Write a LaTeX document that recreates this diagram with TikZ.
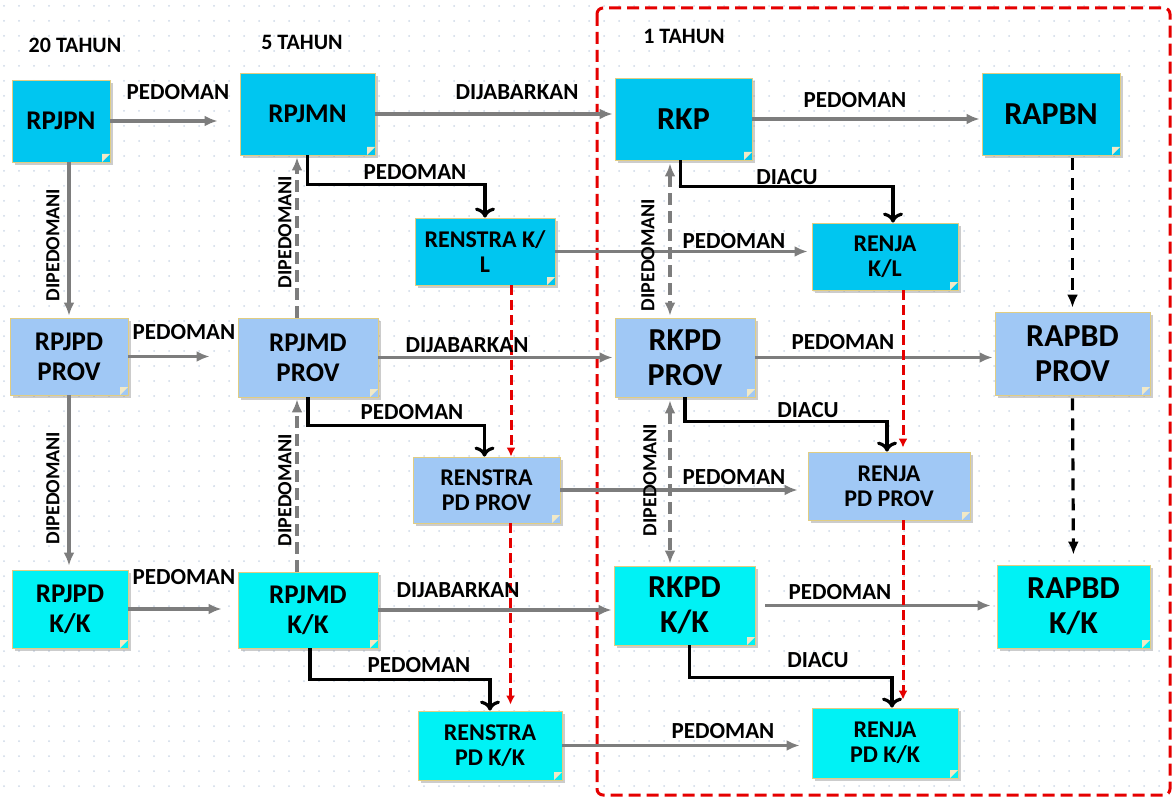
\documentclass[tikz,border=0pt]{standalone}
\usepackage{fontspec}
\setmainfont{Carlito}
\usetikzlibrary{arrows,arrows.meta,shapes,positioning,shadows,calc}

\definecolor{cpusat}{RGB}{0,198,240}
\definecolor{cprov}{RGB}{160,200,245}
\definecolor{ckab}{RGB}{0,242,245}
\definecolor{cborder}{RGB}{225,205,130}
\definecolor{cgaris}{RGB}{125,125,125}
\definecolor{ctitik}{RGB}{205,216,230}

\newcommand{\boxfont}{\fontsize{13.5}{15}\selectfont\bfseries}
\newcommand{\bigboxfont}{\fontsize{16}{17.5}\selectfont\bfseries}
\newcommand{\docfont}{\fontsize{12}{12.5}\selectfont\bfseries}
\newcommand{\lblfont}{\fontsize{11.5}{13}\selectfont\bfseries}
\newcommand{\dipfont}{\fontsize{10}{12}\selectfont\bfseries}

\begin{document}
\begin{tikzpicture}[x=0.5pt, y=-0.5pt,
	basic/.style  = {draw=cborder, thin, rectangle, align=center, inner sep=1pt,
		drop shadow={opacity=0.4, shadow xshift=1.5pt, shadow yshift=-1.5pt},
		path picture={\fill[cborder!45!white] ([xshift=-4pt]path picture bounding box.south east)
			-- ([yshift=4pt]path picture bounding box.south east)
			-- ([xshift=-4pt,yshift=4pt]path picture bounding box.south east) -- cycle;}},
	pusat/.style  = {basic, fill=cpusat},
	prov/.style   = {basic, fill=cprov},
	kab/.style    = {basic, fill=ckab},
	lbl/.style    = {font=\lblfont, inner sep=0pt},
	dip/.style    = {font=\dipfont, inner sep=0pt, rotate=90},
	gline/.style  = {->, draw=cgaris, line width=1.6pt},
	gdash/.style  = {gline, dash pattern=on 6pt off 3pt},
	bline/.style  = {-{To[length=5pt,width=10pt,line width=1.6pt]}, draw=black, line width=1.7pt},
	kdash/.style  = {->, draw=black, line width=1.6pt, dash pattern=on 6pt off 4pt},
	rdash/.style  = {-{Latex[length=4.5pt,width=4.5pt]}, draw=red!90!black, line width=1.5pt, dash pattern=on 5pt off 2.5pt},
	frame/.style  = {draw=red!90!black, line width=1.5pt, dash pattern=on 6pt off 3pt, rounded corners=3pt},
	dotgrid/.style = {draw=ctitik, line width=1pt, line cap=round, dash pattern=on 0pt off 7.5pt},
	>={Latex[length=6.5pt,width=5.5pt]}]

	\useasboundingbox (0,0) rectangle (1174,797);

	% dotted background
	\foreach \y in {6,21,...,796}
	\draw[dotgrid] (4,\y) -- (1174,\y);

	% the one-year frame
	\draw[frame] (597,8) rectangle (1170,795);

	% headings
	\node[font=\fontsize{11}{13}\selectfont\bfseries] (h20) at (75,45) {20 TAHUN};
	\node[font=\fontsize{11}{13}\selectfont\bfseries] (h5) at (302,42) {5 TAHUN};
	\node[font=\fontsize{11}{13}\selectfont\bfseries] (h1) at (684,36) {1 TAHUN};

	% national level
	\node[pusat, minimum width=49pt, minimum height=41pt, font=\boxfont] (rpjpn) at (61,121) {RPJPN};
	\node[pusat, minimum width=67.5pt, minimum height=41pt, font=\boxfont] (rpjmn) at (307.5,114) {RPJMN};
	\node[pusat, minimum width=70pt, minimum height=33.5pt, font=\docfont] (renstrakl) at (485,251.5) {RENSTRA K/\\L};
	\node[pusat, minimum width=68.5pt, minimum height=41pt, font=\bigboxfont] (rkp) at (683.5,119) {RKP};
	\node[pusat, minimum width=73pt, minimum height=33.5pt, font=\docfont] (renjakl) at (885,256.5) {RENJA\\K/L};
	\node[pusat, minimum width=69pt, minimum height=41pt, font=\bigboxfont] (rapbn) at (1051,114) {RAPBN};

	% province level
	\node[prov, minimum width=59pt, minimum height=38.5pt, font=\boxfont] (rpjpdprov) at (69,356.5) {RPJPD\\PROV};
	\node[prov, minimum width=70pt, minimum height=39.5pt, font=\boxfont] (rpjmdprov) at (308,357.5) {RPJMD\\PROV};
	\node[prov, minimum width=73.5pt, minimum height=33pt, font=\docfont] (renstraprov) at (486.5,490) {RENSTRA\\PD PROV};
	\node[prov, minimum width=70pt, minimum height=39.5pt, font=\bigboxfont] (rkpdprov) at (685,357.5) {RKPD\\PROV};
	\node[prov, minimum width=81pt, minimum height=34pt, font=\docfont] (renjaprov) at (889,486) {RENJA\\PD PROV};
	\node[prov, minimum width=77.5pt, minimum height=41.5pt, font=\bigboxfont] (rapbdprov) at (1072.5,353.5) {RAPBD\\PROV};

	% regency / city level
	\node[kab, minimum width=58pt, minimum height=39pt, font=\boxfont] (rpjpdkk) at (70,609) {RPJPD\\K/K};
	\node[kab, minimum width=70pt, minimum height=38pt, font=\boxfont] (rpjmdkk) at (308,610) {RPJMD\\K/K};
	\node[kab, minimum width=72pt, minimum height=34.5pt, font=\docfont] (renstrakk) at (490,745.5) {RENSTRA\\PD K/K};
	\node[kab, minimum width=70.5pt, minimum height=39.5pt, font=\bigboxfont] (rkpdkk) at (684.5,605.5) {RKPD\\K/K};
	\node[kab, minimum width=73pt, minimum height=35pt, font=\docfont] (renjakk) at (885,743) {RENJA\\PD K/K};
	\node[kab, minimum width=76.5pt, minimum height=41.5pt, font=\bigboxfont] (rapbdkk) at (1073.5,606.5) {RAPBD\\K/K};

	% horizontal links
	\draw[gline, shorten >=11pt] (rpjpn.east) -- (rpjmn.west |- rpjpn.east);
	\draw[gline, shorten >=1pt] (rpjmn.east) -- (rkp.west |- rpjmn.east);
	\draw[gline, shorten >=1pt] (rkp.east) -- (rapbn.west |- rkp.east);
	\draw[gline, shorten >=2pt] (renstrakl.east) -- (renjakl.west |- renstrakl.east);

	\draw[gline, shorten >=14pt] (rpjpdprov.east) -- (rpjmdprov.west |- rpjpdprov.east);
	\draw[gline, shorten >=1pt] (rpjmdprov.east) -- (rkpdprov.west |- rpjmdprov.east);
	\draw[gline, shorten >=1pt] (rkpdprov.east) -- (rapbdprov.west |- rkpdprov.east);
	\draw[gline, shorten >=5pt] (renstraprov.east) -- (renjaprov.west |- renstraprov.east);

	\draw[gline, shorten >=8pt] (rpjpdkk.east) -- (rpjmdkk.west |- rpjpdkk.east);
	\draw[gline, shorten >=1pt] (rpjmdkk.east) -- (rkpdkk.west |- rpjmdkk.east);
	\draw[gline, shorten <=5pt, shorten >=3pt] (rkpdkk.east) -- (rapbdkk.west |- rkpdkk.east);
	\draw[gline, shorten >=6pt] (renstrakk.east) -- (renjakk.west |- renstrakk.east);

	% vertical links
	\draw[gline, shorten >=1pt] (rpjpdprov.north |- rpjpn.south) -- (rpjpdprov.north);
	\draw[gline, shorten >=2pt] (rpjpdprov.south) -- (rpjpdprov.south |- rpjpdkk.north);
	\draw[gdash, shorten >=1pt] ([xshift=-5.5pt]rpjmdprov.north) -- ([xshift=-5.5pt]rpjmdprov.north |- rpjmn.south);
	\draw[gdash, shorten >=1pt] ([xshift=-5.5pt]rpjmdkk.north) -- ([xshift=-5.5pt]rpjmdkk.north |- rpjmdprov.south);
	\draw[gdash, <->, shorten <=1.5pt, shorten >=1pt] ([xshift=-7.5pt]rkpdprov.north |- rkp.south) -- ([xshift=-7.5pt]rkpdprov.north);
	\draw[gdash, <->, shorten <=1.5pt, shorten >=1pt] ([xshift=-7.5pt]rkpdprov.south) -- ([xshift=-7.5pt]rkpdprov.south |- rkpdkk.north);
	\draw[kdash, shorten <=1.5pt, shorten >=2pt] (rapbdprov.north |- rapbn.south) -- (rapbdprov.north);
	\draw[kdash, shorten <=1.5pt, shorten >=5pt] (rapbdprov.south) -- (rapbdkk.north);

	% red cascade of plans
	\draw[rdash] ([xshift=13pt]renstrakl.south) -- ([xshift=13pt]renstrakl.south |- renstraprov.north);
	\draw[rdash, shorten >=3pt] ([xshift=12pt]renstraprov.south) -- ([xshift=12pt]renstraprov.south |- renstrakk.north);
	\draw[rdash, shorten >=2pt] ([xshift=9pt]renjakl.south) -- ([xshift=9pt]renjakl.south |- renjaprov.north);
	\draw[rdash, shorten >=4pt] ([xshift=7pt]renjaprov.south) -- ([xshift=7pt]renjaprov.south |- renjakk.north);

	% black elbows
	\draw[bline] (rpjmn.south) |- ($(rpjmn.south)!0.47!(renstrakl.north)$) -| (renstrakl.north);
	\draw[bline] ([xshift=-1.5pt]rkp.south) |- ($(rkp.south)!0.42!(renjakl.north)$) -| ([xshift=4pt]renjakl.north);
	\draw[bline] (rpjmdprov.south) |- ($(rpjmdprov.south)!0.47!(renstraprov.north)$) -| ([xshift=-1pt]renstraprov.north);
	\draw[bline] (rkpdprov.south) |- ($(rkpdprov.south)!0.45!(renjaprov.north)$) -| ([xshift=-1pt]renjaprov.north);
	\draw[bline] ([xshift=1pt]rpjmdkk.south) |- ($(rpjmdkk.south)!0.5!(renstrakk.north)$) -| (renstrakk.north);
	\draw[bline] ([xshift=2.5pt]rkpdkk.south) |- ($(rkpdkk.south)!0.52!(renjakk.north)$) -| ([xshift=3.5pt]renjakk.north);

	% labels, first row
	\node[lbl] (p1) at (178,92) {PEDOMAN};
	\node[lbl] (j1) at (517,92) {DIJABARKAN};
	\node[lbl] (p2) at (855,100) {PEDOMAN};
	\node[lbl] (p3) at (415,172) {PEDOMAN};
	\node[lbl] (a1) at (787,177) {DIACU};
	\node[lbl] (p4) at (734,241) {PEDOMAN};
	\node[dip] (d1) at (53,245) {DIPEDOMANI};
	\node[dip] (d2) at (285,232) {DIPEDOMANI};
	\node[dip] (d3) at (648,255) {DIPEDOMANI};

	% labels, second row
	\node[lbl] (p5) at (184,332) {PEDOMAN};
	\node[lbl] (j2) at (467,345) {DIJABARKAN};
	\node[lbl] (p6) at (843,342) {PEDOMAN};
	\node[lbl] (p7) at (412,412) {PEDOMAN};
	\node[lbl] (a2) at (808,410) {DIACU};
	\node[lbl] (p8) at (734,477) {PEDOMAN};
	\node[dip] (d4) at (53,488) {DIPEDOMANI};
	\node[dip] (d5) at (285,490) {DIPEDOMANI};
	\node[dip] (d6) at (650,480) {DIPEDOMANI};

	% labels, third row
	\node[lbl] (p9) at (184,577) {PEDOMAN};
	\node[lbl] (j3) at (458,590) {DIJABARKAN};
	\node[lbl] (p10) at (840,592) {PEDOMAN};
	\node[lbl] (p11) at (419,665) {PEDOMAN};
	\node[lbl] (a3) at (818,660) {DIACU};
	\node[lbl] (p12) at (723,731) {PEDOMAN};

\end{tikzpicture}
\end{document}
